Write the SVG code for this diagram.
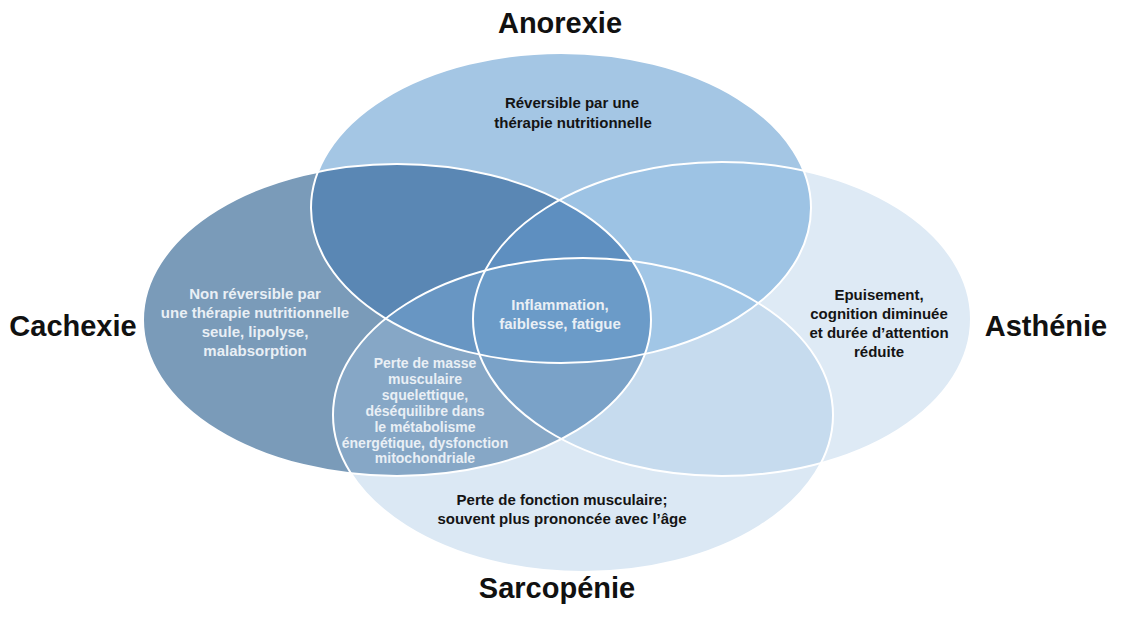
<svg xmlns="http://www.w3.org/2000/svg" width="1125" height="622" viewBox="0 0 1125 622">
<style>
.title{font-family:"Liberation Sans",Arial,sans-serif;font-weight:bold;font-size:29px;fill:#111;text-anchor:middle}
.dk{font-family:"Liberation Sans",Arial,sans-serif;font-weight:bold;font-size:15px;fill:#141414;text-anchor:middle}
.lt{font-family:"Liberation Sans",Arial,sans-serif;font-weight:bold;font-size:15px;fill:#e9eff5;text-anchor:middle}
.sm{font-size:14px}
.outline{fill:none;stroke:#ffffff;stroke-width:2}
</style>
<defs>
<ellipse id="eA" cx="561" cy="208" rx="250" ry="155"/>
<ellipse id="eC" cx="397" cy="320" rx="254" ry="156"/>
<ellipse id="eS" cx="722" cy="319" rx="249" ry="157"/>
<ellipse id="eSa" cx="583" cy="415" rx="250" ry="157"/>
<clipPath id="cA"><use href="#eA"/></clipPath>
<clipPath id="cC"><use href="#eC"/></clipPath>
<clipPath id="cS"><use href="#eS"/></clipPath>
<clipPath id="cSa"><use href="#eSa"/></clipPath>
</defs>
<rect width="1125" height="622" fill="#ffffff"/>

<g id="anorexie">
<use href="#eA" fill="#a4c6e4"/>
<text class="title" x="560" y="33">Anorexie</text>
<text class="dk" x="572" y="108">Réversible par une</text>
<text class="dk" x="573" y="128">thérapie nutritionnelle</text>
</g>
<g id="cachexie">
<use href="#eC" fill="#7a9bb9"/>
<text class="title" x="73" y="336">Cachexie</text>
<text class="lt" x="255" y="299">Non réversible par</text>
<text class="lt" x="255" y="318">une thérapie nutritionnelle</text>
<text class="lt" x="255" y="337">seule, lipolyse,</text>
<text class="lt" x="255" y="356">malabsorption</text>
</g>
<g id="asthenie">
<use href="#eS" fill="#deeaf5"/>
<text class="title" x="1046" y="336">Asthénie</text>
<text class="dk" x="879" y="300">Epuisement,</text>
<text class="dk" x="879" y="319">cognition diminuée</text>
<text class="dk" x="879" y="338">et durée d’attention</text>
<text class="dk" x="879" y="357">réduite</text>
</g>
<g id="sarcopenie">
<use href="#eSa" fill="#dbe8f4"/>
<text class="title" x="557" y="598">Sarcopénie</text>
<text class="dk" x="562" y="505">Perte de fonction musculaire;</text>
<text class="dk" x="562" y="524">souvent plus prononcée avec l’âge</text>
</g>

<g id="overlaps">
<g clip-path="url(#cA)"><use href="#eC" fill="#5a87b4"/></g>
<g clip-path="url(#cA)"><use href="#eS" fill="#9dc3e4"/></g>
<g clip-path="url(#cA)"><use href="#eSa" fill="#a1c6e6"/></g>
<g clip-path="url(#cC)"><use href="#eS" fill="#7aa2c8"/></g>
<g clip-path="url(#cC)"><use href="#eSa" fill="#86a7c6"/></g>
<g clip-path="url(#cS)"><use href="#eSa" fill="#c6dbee"/></g>
<g clip-path="url(#cA)"><g clip-path="url(#cC)"><use href="#eS" fill="#5e8fc0"/></g></g>
<g clip-path="url(#cA)"><g clip-path="url(#cC)"><use href="#eSa" fill="#6896c3"/></g></g>
<g clip-path="url(#cA)"><g clip-path="url(#cS)"><use href="#eSa" fill="#a1c6e6"/></g></g>
<g clip-path="url(#cC)"><g clip-path="url(#cS)"><use href="#eSa" fill="#7aa2c8"/></g></g>
<g clip-path="url(#cA)"><g clip-path="url(#cC)"><g clip-path="url(#cS)"><use href="#eSa" fill="#6b9bc8"/></g></g></g>
</g>

<g id="outlines">
<use href="#eA" class="outline"/>
<use href="#eC" class="outline"/>
<use href="#eS" class="outline"/>
<use href="#eSa" class="outline"/>
</g>

<g id="overlap-labels">
<text class="lt" x="560" y="310">Inflammation,</text>
<text class="lt" x="560" y="329">faiblesse, fatigue</text>
<text class="lt sm" x="425" y="368">Perte de masse</text>
<text class="lt sm" x="425" y="384">musculaire</text>
<text class="lt sm" x="425" y="400">squelettique,</text>
<text class="lt sm" x="425" y="416">déséquilibre dans</text>
<text class="lt sm" x="425" y="432">le métabolisme</text>
<text class="lt sm" x="425" y="448">énergétique, dysfonction</text>
<text class="lt sm" x="425" y="463">mitochondriale</text>
</g>
</svg>
